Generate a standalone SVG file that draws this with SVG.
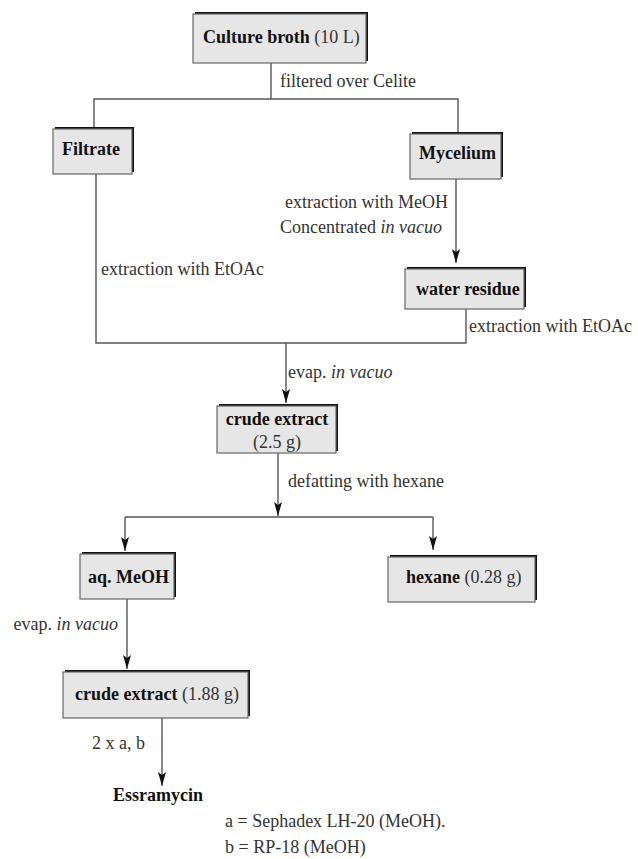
<svg xmlns="http://www.w3.org/2000/svg" width="638" height="859" viewBox="0 0 638 859">
<style>
text{font-family:"Liberation Serif","Times New Roman",serif;font-size:18px;fill:#333}
.b{font-weight:bold;fill:#111}
.i{font-style:italic}
.shadow{fill:#111}
.box{fill:#e6e6e6;stroke:#666;stroke-width:1.2}
.ln{fill:none;stroke:#555;stroke-width:1.4}
.ar{fill:none;stroke:#555;stroke-width:1.4;marker-end:url(#ah)}
</style>
<defs>
<marker id="ah" viewBox="0 0 14 8" refX="14" refY="4" markerWidth="14" markerHeight="8" markerUnits="userSpaceOnUse" orient="auto">
<path d="M0,0 L14,4 L0,8 L3,4 Z" fill="#111"/>
</marker>
</defs>
<g id="connectors">
<path class="ln" d="M271,63 V99 M94,127 V99 H458 V132"/>
<path class="ar" d="M456,179 V263"/>
<path class="ln" d="M96,174 V343 H466 V309"/>
<path class="ar" d="M286,343 V403"/>
<path class="ar" d="M278,453 V516"/>
<path class="ln" d="M125,517 H433"/>
<path class="ar" d="M125,517 V551"/>
<path class="ar" d="M433,517 V550"/>
<path class="ar" d="M127,599 V669"/>
<path class="ar" d="M162,718 V786"/>
</g>
<g id="culture">
<rect class="shadow" x="195" y="12" width="173" height="49"/>
<rect class="box" x="193" y="14" width="173" height="49"/>
<text x="203" y="43"><tspan class="b">Culture broth</tspan> (10 L)</text>
</g>
<g id="filtrate">
<rect class="shadow" x="55" y="127" width="79" height="45"/>
<rect class="box" x="53" y="129" width="79" height="45"/>
<text class="b" x="62" y="155">Filtrate</text>
</g>
<g id="mycelium">
<rect class="shadow" x="412" y="132" width="91" height="45"/>
<rect class="box" x="410" y="134" width="91" height="45"/>
<text class="b" x="419" y="159">Mycelium</text>
</g>
<g id="water">
<rect class="shadow" x="407" y="267" width="119" height="40"/>
<rect class="box" x="405" y="269" width="119" height="40"/>
<text class="b" x="416" y="295">water residue</text>
</g>
<g id="crude1">
<rect class="shadow" x="219" y="404" width="119" height="47"/>
<rect class="box" x="217" y="406" width="119" height="47"/>
<text class="b" x="277" y="425" text-anchor="middle">crude extract</text>
<text x="277" y="448" text-anchor="middle">(2.5 g)</text>
</g>
<g id="aqmeoh">
<rect class="shadow" x="82" y="552" width="94" height="45"/>
<rect class="box" x="80" y="554" width="94" height="45"/>
<text class="b" x="88" y="583">aq. MeOH</text>
</g>
<g id="hexane">
<rect class="shadow" x="390" y="555" width="147" height="45"/>
<rect class="box" x="388" y="557" width="147" height="45"/>
<text x="406" y="583"><tspan class="b">hexane</tspan> (0.28 g)</text>
</g>
<g id="crude2">
<rect class="shadow" x="65" y="670" width="185" height="46"/>
<rect class="box" x="63" y="672" width="185" height="46"/>
<text x="75" y="700"><tspan class="b">crude extract</tspan> (1.88 g)</text>
</g>
<g id="essramycin">
<text class="b" x="113" y="801">Essramycin</text>
</g>
<g id="labels">
<text x="280" y="87">filtered over Celite</text>
<text x="448" y="208" text-anchor="end">extraction with MeOH</text>
<text x="442" y="233" text-anchor="end">Concentrated <tspan class="i">in vacuo</tspan></text>
<text x="101" y="275">extraction with EtOAc</text>
<text x="469" y="332">extraction with EtOAc</text>
<text x="288" y="378">evap. <tspan class="i">in vacuo</tspan></text>
<text x="288" y="487">defatting with hexane</text>
<text x="118" y="630" text-anchor="end">evap. <tspan class="i">in vacuo</tspan></text>
<text x="92" y="749">2 x a, b</text>
<text x="225" y="827">a = Sephadex LH-20 (MeOH).</text>
<text x="225" y="853">b = RP-18 (MeOH)</text>
</g>
</svg>
